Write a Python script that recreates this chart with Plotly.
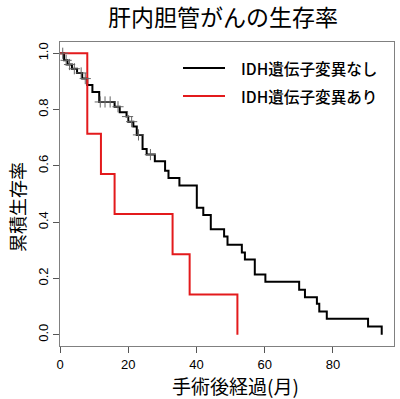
import numpy as np
import plotly.graph_objects as go

# ---- data ----
black_times = [0, 1.2, 2.2, 3.5, 5.0, 6.5, 8.0, 9.5, 11.5, 16.0, 17.5, 19.5, 20.0, 21.5, 22.5,
               24.2, 25.4, 27.8, 30.8, 31.8, 35.0, 40.1, 42.0, 44.2, 48.1, 49.1, 53.3, 54.2,
               57.1, 60.2, 70.1, 71.8, 75.3, 76.0, 78.2, 90.3, 94.3]
black_surv = [1.0, 0.975, 0.96, 0.945, 0.93, 0.91, 0.887, 0.862, 0.827, 0.81, 0.79, 0.775, 0.757,
              0.74, 0.71, 0.66, 0.64, 0.616, 0.583, 0.557, 0.530, 0.451, 0.425, 0.375, 0.349,
              0.32, 0.292, 0.267, 0.214, 0.188, 0.16, 0.133, 0.11, 0.083, 0.057, 0.029, 0.0]
black_censor = [0.8, 1.8, 2.8, 4.2, 6.2, 7.4, 11.8, 13.2, 14.7, 17.0, 19.8, 21.0, 23.0, 26.5]

red_times = [0, 8, 12, 16, 33, 38, 52]
red_surv = [1.0, 0.714, 0.571, 0.429, 0.286, 0.143, 0.0]

x_ticks = [0, 20, 40, 60, 80]
y_ticks = [0.0, 0.2, 0.4, 0.6, 0.8, 1.0]

title_text = "肝内胆管がんの生存率"
x_title = "手術後経過(月)"
y_title = "累積生存率"
legend_labels = ["IDH遺伝子変異なし", "IDH遺伝子変異あり"]

CJK = "Noto Sans CJK JP"
LAT = "Liberation Sans"

L, R, T, B = 60, 394, 42, 346  # plot box in pixels
W, H = 400, 399


def step_value(times, surv, t):
    idx = np.searchsorted(np.asarray(times), t, side="right") - 1
    return np.asarray(surv)[idx]


def px_x(p):
    return (p - L) / (R - L)


def px_y(p):
    return (B - p) / (B - T)


fig = go.Figure()
fig.add_trace(go.Scatter(x=black_times, y=black_surv, mode="lines", line_shape="hv",
                         line=dict(color="black", width=2), showlegend=False,
                         name=legend_labels[0]))
fig.add_trace(go.Scatter(x=red_times, y=red_surv, mode="lines", line_shape="hv",
                         line=dict(color="#e31a1c", width=2), showlegend=False,
                         name=legend_labels[1]))
fig.add_trace(go.Scatter(x=black_censor,
                         y=[float(step_value(black_times, black_surv, t)) for t in black_censor],
                         mode="markers",
                         marker=dict(symbol="cross-thin", size=8,
                                     line=dict(color="#666666", width=1)),
                         showlegend=False, hoverinfo="skip"))

# manual legend
for i, (lab, col) in enumerate(zip(legend_labels, ["black", "#e31a1c"])):
    yp = px_y(68 + 28 * i)
    fig.add_shape(type="line", xref="paper", yref="paper",
                  x0=px_x(183), x1=px_x(225), y0=yp, y1=yp,
                  line=dict(color=col, width=2))
    fig.add_annotation(text=lab, xref="paper", yref="paper",
                       x=px_x(239), y=yp, xanchor="left", yanchor="middle",
                       showarrow=False,
                       font=dict(family=CJK, size=15.6, color="black", weight=500))

# axis titles
fig.add_annotation(text=x_title, xref="paper", yref="paper",
                   x=px_x(235), y=px_y(385), xanchor="center", yanchor="middle",
                   showarrow=False, font=dict(family=CJK, size=19, color="black"))
fig.add_annotation(text=y_title, xref="paper", yref="paper", textangle=-90,
                   x=px_x(17), y=px_y(207), xanchor="center", yanchor="middle",
                   showarrow=False, font=dict(family=CJK, size=18, color="black"))

axis_common = dict(showgrid=False, zeroline=False, showline=True, mirror=True,
                   linecolor="#808080", linewidth=1, ticks="outside", ticklen=6,
                   tickcolor="#555555", automargin=False,
                   tickfont=dict(family=LAT, size=13, color="black"))

fig.update_layout(
    width=W, height=H,
    margin=dict(l=L, r=W - R, t=T, b=H - B, autoexpand=False),
    paper_bgcolor="white", plot_bgcolor="white",
    title=dict(text=title_text, x=223 / W, xanchor="center",
               y=1 - 18 / H, yanchor="middle", yref="container", automargin=False,
               font=dict(family=CJK, size=23, color="black")),
    xaxis=dict(range=[0, 97.9], tickvals=x_ticks,
               ticktext=[str(v) for v in x_ticks], **axis_common),
    yaxis=dict(range=[-0.04, 1.04], tickvals=y_ticks,
               ticktext=[f"{v:.1f}" for v in y_ticks], tickangle=-90, **axis_common),
)

fig.write_html("out.html", config={"displayModeBar": False},
               post_script="document.body.style.margin='0';document.body.style.padding='0';")
